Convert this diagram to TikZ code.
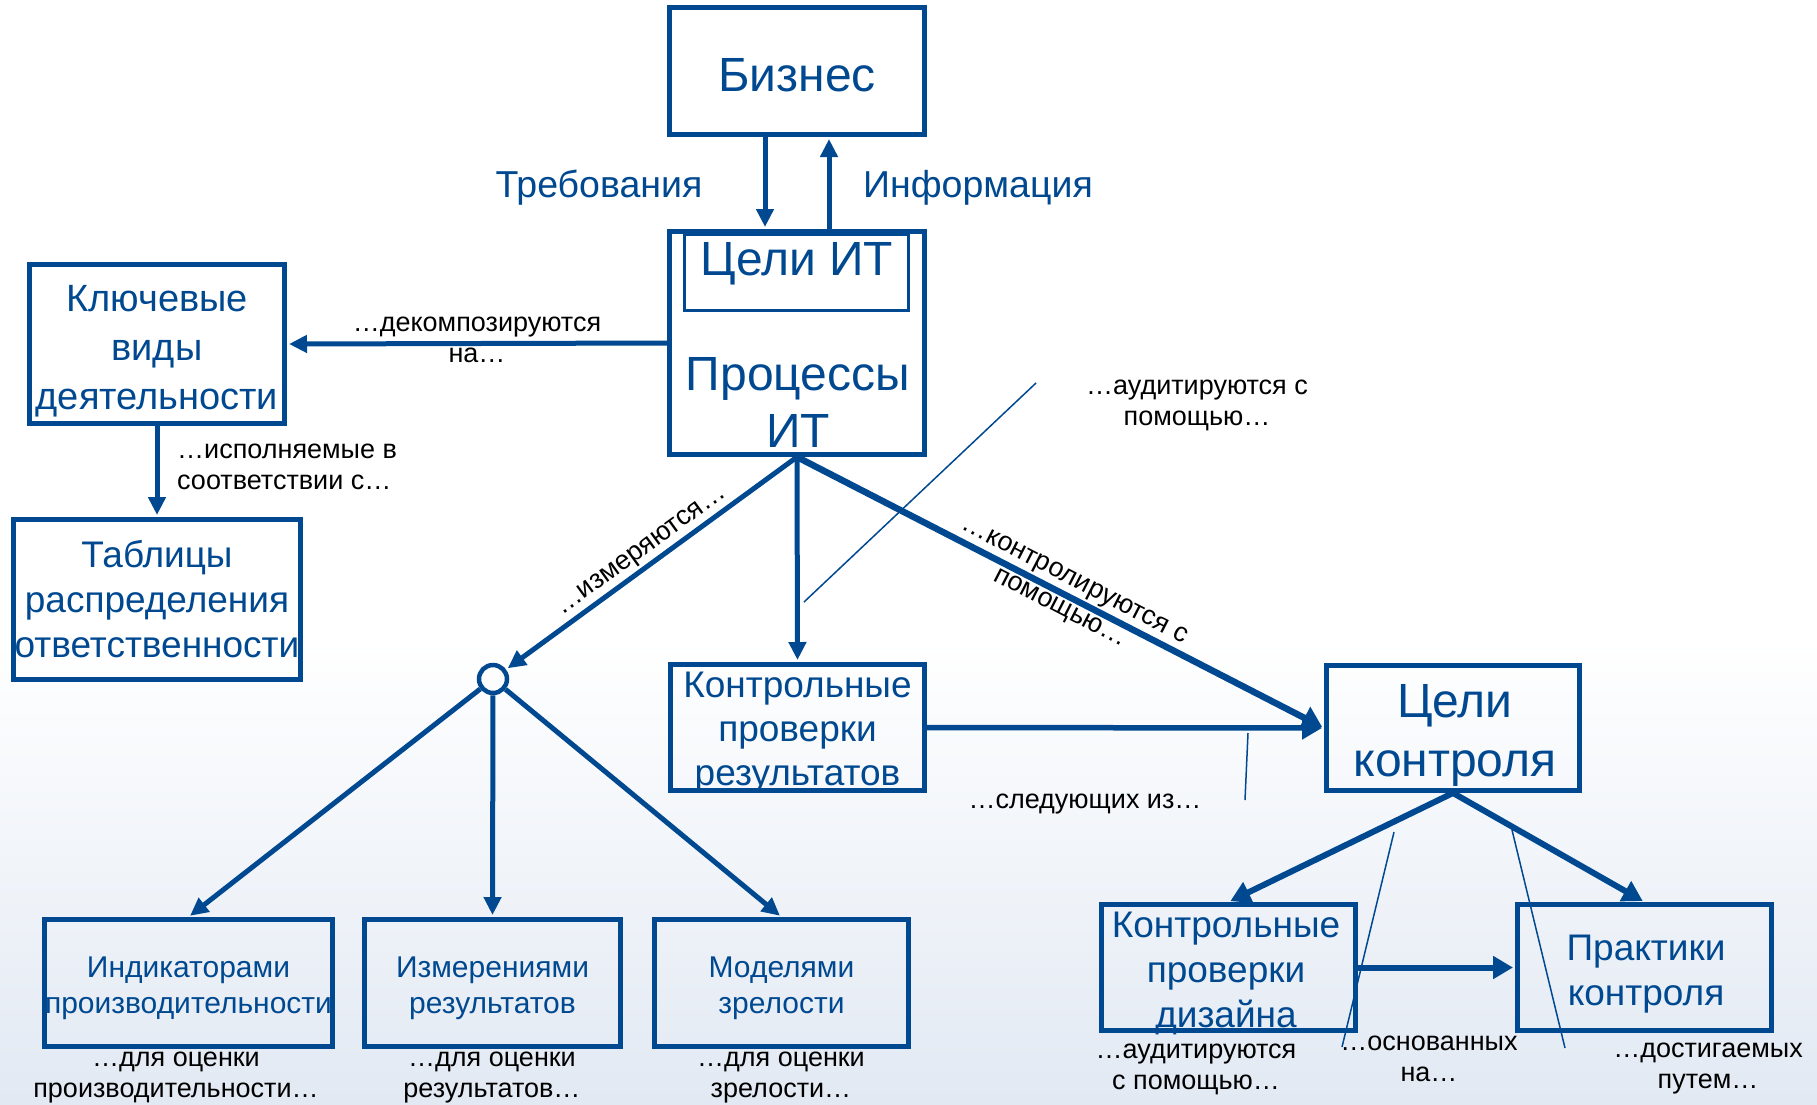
\documentclass[tikz,border=0pt]{standalone}
\usepackage{fontspec}
\setmainfont{Liberation Sans}
\usetikzlibrary{arrows.meta,calc}
\definecolor{cblue}{RGB}{0,73,144}
\definecolor{bgblue}{RGB}{226,233,243}
\newcommand\fsz[2]{\fontsize{#1pt}{#2pt}\selectfont}
\begin{document}
\begin{tikzpicture}[x=1pt,y=-1pt,
 box/.style={draw=cblue,line width=5pt,text=cblue,align=center,inner sep=0pt},
 lbl/.style={text=black,align=center,inner sep=0pt,font=\fsz{27}{31}},
 btxt/.style={text=cblue,inner sep=0pt},
 conn/.style={draw=cblue,line width=5pt,shorten >=2pt,-{Triangle[length=18pt,width=17pt]}},
 callout/.style={draw=cblue,line width=1.5pt}]
\path[use as bounding box] (0,0) rectangle (1817,1104);
\fill[white] (0,0) rectangle (1817,640);
\shade[top color=white,bottom color=bgblue] (0,640) rectangle (1817,1104);

% boxes
\node[box,minimum width=255pt,minimum height=127pt] (biz) at (797,71) {};
\node[btxt,font=\fsz{48}{56}] (biztxt) at (797,75) {Бизнес};
\node[box,minimum width=255pt,minimum height=223pt] (procs) at (797,343) {};
\node[draw=cblue,line width=3pt,inner sep=0pt,minimum width=224pt,minimum height=76pt] (itbox) at (796.5,272.5) {};
\node[btxt,font=\fsz{48}{56},anchor=base] (itgoals) at (797,275) {Цели ИТ};
\node[btxt,font=\fsz{48}{57},align=center] (itproc) at (798,402) {Процессы\\ИТ};
\node[box,minimum width=255pt,minimum height=159pt] (kvd) at (157,344) {};
\node[btxt,font=\fsz{38}{49},align=center] (kvdtxt) at (157,351) {Ключевые\\виды\\деятельности};
\node[box,minimum width=287pt,minimum height=160pt,font=\fsz{37}{45}] (tables) at (157,599.5) {Таблицы\\распределения\\\makebox[0pt]{ответственности}};
\node[box,minimum width=254pt,minimum height=126pt] (kpr) at (797.5,727.5) {};
\node[btxt,font=\fsz{37}{44},align=center] (kprtxt) at (797.5,732.5) {Контрольные\\проверки\\результатов};
\node[box,minimum width=253pt,minimum height=125pt] (cc) at (1453,728) {};
\node[btxt,font=\fsz{48}{59},align=center] (cctxt) at (1455,735) {Цели\\контроля};
\node[box,minimum width=254pt,minimum height=126pt] (kpd) at (1228.5,967.5) {};
\node[btxt,font=\fsz{37}{45},align=center] (kpdtxt) at (1226,973) {Контрольные\\проверки\\дизайна};
\node[box,minimum width=254pt,minimum height=126pt] (prak) at (1644.5,967.5) {};
\node[btxt,font=\fsz{37}{45},align=center] (praktxt) at (1646,974) {Практики\\контроля};
\node[box,minimum width=288pt,minimum height=127pt] (b1) at (188.5,983) {};
\node[btxt,font=\fsz{30}{36},align=center] (b1txt) at (188.5,988) {Индикаторами\\\makebox[0pt]{производительности}};
\node[box,minimum width=256pt,minimum height=127pt] (b2) at (492.5,983) {};
\node[btxt,font=\fsz{30}{36},align=center] (b2txt) at (492.5,988) {Измерениями\\результатов};
\node[box,minimum width=254pt,minimum height=127pt] (b3) at (781.5,983) {};
\node[btxt,font=\fsz{30}{36},align=center] (b3txt) at (781.5,988) {Моделями\\зрелости};
\node[circle,draw=cblue,line width=4.5pt,minimum size=28pt,inner sep=0pt] (hub) at (493,679) {};

% top labels
\node[btxt,font=\fsz{37.5}{40},anchor=base] (lreq) at (599,197) {Требования};
\node[btxt,font=\fsz{37.5}{40},anchor=base] (linfo) at (978,197) {Информация};

% connectors
\draw[conn] ($(biz.south)+(-32,0)$) -- ($(procs.north)+(-32,0)$);
\draw[conn] ($(procs.north)+(32,0)$) -- ($(biz.south)+(32,0)$);
\draw[conn] (procs.west) -- (kvd.east) node[lbl,midway,yshift=4pt] (ldec) {…декомпозируются\\на…};
\draw[conn] (kvd.south) -- (tables.north);
\draw[conn] (procs.south) -- (hub);
\draw[conn] (procs.south) -- (kpr.north);
\draw[conn,line width=6.5pt,-{Triangle[length=20pt,width=24pt]}] (procs.south) -- (cc.west)
  node[lbl,pos=0.512,sloped] (lctl) {…контролируются с\\помощью…};
\draw[conn,line width=5.5pt,-{Triangle[length=20pt,width=22pt]}] (kpr.east) -- (cc.west);
\draw[conn] (hub) -- (b1.north);
\draw[conn] (hub) -- (b2.north);
\draw[conn] (hub) -- (b3.north);
\draw[conn,line width=6pt,-{Triangle[length=20pt,width=22pt]}] (cc.south) -- (kpd.north);
\draw[conn,line width=6pt,-{Triangle[length=20pt,width=22pt]}] (cc.south) -- (prak.north);
\draw[conn,line width=6pt,-{Triangle[length=20pt,width=22pt]}] (kpd.east) -- (prak.west);

% rotated and free labels
\node[lbl,rotate=36] (lmeas) at (642,552) {…измеряются…};
\node[lbl,align=left,anchor=west] (lexec) at (177,467) {…исполняемые в\\соответствии с…};
\node[lbl] (laud1) at (1197,405) {…аудитируются с\\помощью…};
\node[lbl] (lfol) at (1085,804) {…следующих из…};
\node[lbl] (laud2) at (1196,1069) {…аудитируются\\с помощью…};
\node[lbl] (lbas) at (1429,1059) {…основанных\\на…};
\node[lbl] (lach) at (1708,1069) {…достигаемых\\путем…};
\node[lbl] (lev1) at (176,1077.5) {…для оценки\\производительности…};
\node[lbl] (lev2) at (492,1077.5) {…для оценки\\результатов…};
\node[lbl] (lev3) at (781,1077.5) {…для оценки\\зрелости…};

% thin callout lines
\coordinate (c1a) at (1036,383); \coordinate (c1b) at (804,602);
\coordinate (c2a) at (1248,733); \coordinate (c2b) at (1245,800);
\coordinate (c3a) at (1394,832); \coordinate (c3b) at (1342,1047);
\coordinate (c4a) at (1512,830); \coordinate (c4b) at (1565,1048);
\draw[callout] (c1a) -- (c1b);
\draw[callout] (c2a) -- (c2b);
\draw[callout] (c3a) -- (c3b);
\draw[callout] (c4a) -- (c4b);
\end{tikzpicture}
\end{document}
